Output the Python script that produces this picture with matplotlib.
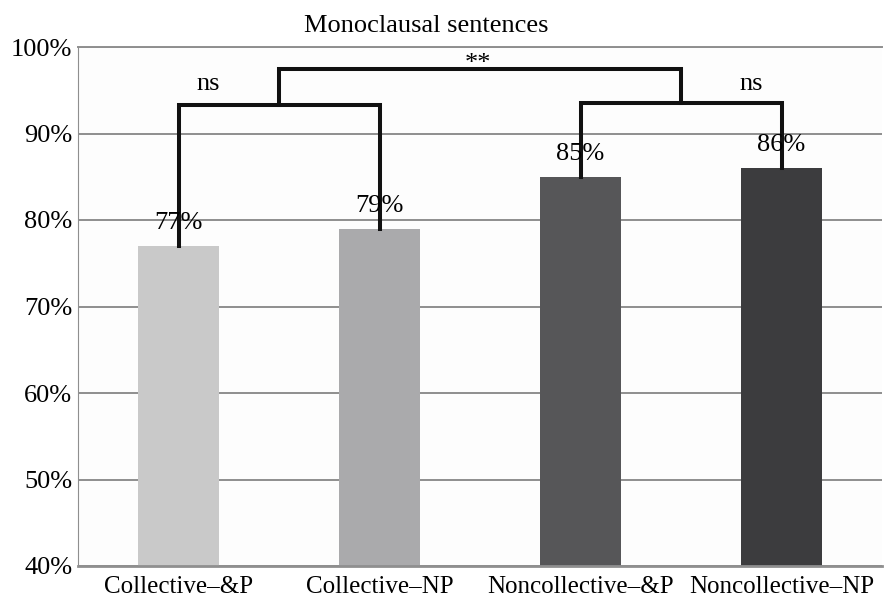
import matplotlib.pyplot as plt
from matplotlib.ticker import FuncFormatter

categories = ['Collective–&P', 'Collective–NP', 'Noncollective–&P', 'Noncollective–NP']
values = [77, 79, 85, 86]
bar_colors = ['#c9c9c9', '#aaaaac', '#565658', '#3c3c3e']
value_labels = ['77%', '79%', '85%', '86%']

# significance brackets: (left bar, right bar, height, label)
pair_left = (0, 1, 93.3, 'ns')
pair_right = (2, 3, 93.5, 'ns')
top_height = 97.4
top_label = '**'

plt.rcParams['font.family'] = ['Liberation Serif', 'DejaVu Serif']

fig = plt.figure(figsize=(8.95, 6), dpi=100)
ax = fig.add_axes([78 / 895, 34 / 600, 804 / 895, 519 / 600])

x = range(len(categories))
ax.bar(x, values, width=0.4, color=bar_colors, zorder=2)
for xi, v, lab in zip(x, values, value_labels):
    ax.text(xi, v + 1.4, lab, ha='center', va='bottom', fontsize=19, zorder=4)

ax.set_xlim(-0.5, 3.5)
ax.set_ylim(40, 100)
ax.set_yticks(range(40, 101, 10))
ax.yaxis.set_major_formatter(FuncFormatter(lambda v, p: f'{int(v)}%'))
ax.set_xticks(list(x))
ax.set_xticklabels(categories, fontsize=18)
ax.tick_params(axis='y', labelsize=19, length=0, pad=4)
ax.tick_params(axis='x', length=0, pad=7)
ax.grid(axis='y', color='#8f8f8f', linewidth=1.4, zorder=1)
ax.set_axisbelow(True)
ax.spines['right'].set_visible(False)
ax.spines['left'].set_color('#8f8f8f')
ax.spines['top'].set_color('#8f8f8f')
ax.spines['top'].set_linewidth(1.4)
ax.spines['bottom'].set_color('#8f8f8f')
ax.spines['bottom'].set_linewidth(2)
ax.set_facecolor('#fdfdfd')

lw = 2.9
mids = []
for a, b, h, lab in [pair_left, pair_right]:
    ax.plot([a, a, b, b], [values[a], h, h, values[b]], color='#111111', lw=lw, zorder=3,
            solid_joinstyle='miter')
    mids.append((a + b) / 2)
ax.plot([mids[0], mids[0], mids[1], mids[1]],
        [pair_left[2], top_height, top_height, pair_right[2]],
        color='#111111', lw=lw, zorder=3, solid_joinstyle='miter')
ax.text(mids[0] - 0.35, 95.7, pair_left[3], ha='center', va='center', fontsize=19)
ax.text(mids[1] + 0.35, 95.7, pair_right[3], ha='center', va='center', fontsize=19)
ax.text(sum(mids) / 2 - 0.01, 98.0, top_label, ha='center', va='center', fontsize=19)

fig.text(426 / 895, 1 - 26 / 600, 'Monoclausal sentences', ha='center', va='center', fontsize=19)

fig.savefig('out.png', dpi=100)
